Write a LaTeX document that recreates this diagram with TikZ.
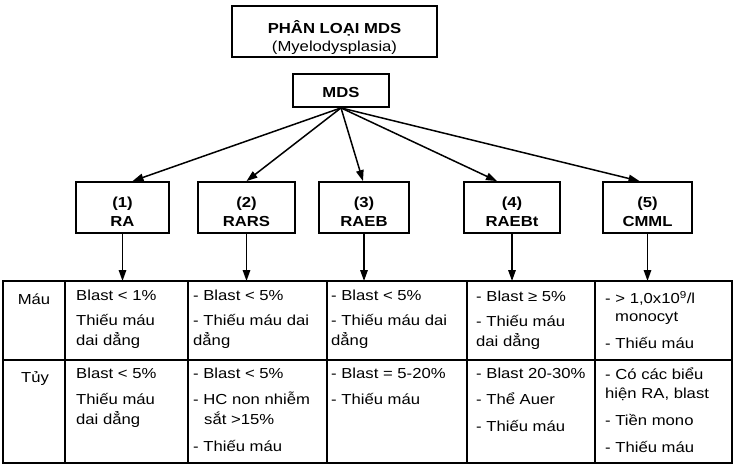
\documentclass[tikz,border=0pt]{standalone}
\usepackage{fontspec}
\setmainfont[FakeStretch=1.15]{Liberation Sans}
\usetikzlibrary{arrows.meta,positioning}
\tikzset{
  titlebox/.style={draw,line width=1.8pt,align=center,inner sep=0pt,
    minimum width=205pt,text height=45pt,text depth=6pt,font=\fontsize{14.5}{18}\selectfont},
  rootbox/.style={draw,line width=1.8pt,align=center,inner sep=0pt,
    minimum width=96pt,text height=23pt,text depth=10pt,font=\bfseries\fontsize{14.5}{18}\selectfont},
  catbox/.style={draw,line width=1.8pt,align=center,inner sep=0pt,
    text height=44pt,text depth=7pt,font=\bfseries\fontsize{14.5}{19}\selectfont},
  splitarrow/.style={-{Triangle[length=11pt,width=7.5pt]},line width=1.5pt},
  downarrow/.style={-{Triangle[length=11pt,width=7.5pt]},line width=1.5pt},
  tableframe/.style={line width=2pt},
  tablerule/.style={line width=1.4pt},
  rowlabel/.style={anchor=base,inner sep=0pt,font=\fontsize{14.5}{20}\selectfont},
  celltext/.style={anchor=north west,align=left,inner sep=0pt,
    font=\fontsize{14.5}{20}\selectfont,execute at begin node=\strut}
}

\begin{document}
\begin{tikzpicture}[x=1pt,y=-1pt]
  \useasboundingbox (0,0) rectangle (736,471);
  % boxes
  \node[titlebox,anchor=base] (title) at (334.5,51) {\textbf{PHÂN LOẠI MDS}\\(Myelodysplasia)};
  \node[rootbox,anchor=base] (mds) at (341,97) {MDS};
  \node[catbox,minimum width=93pt,anchor=base] (ra) at (122.5,226) {(1)\\RA};
  \node[catbox,minimum width=97pt,anchor=base] (rars) at (246.5,226) {(2)\\RARS};
  \node[catbox,minimum width=90pt,anchor=base] (raeb) at (364,226) {(3)\\RAEB};
  \node[catbox,minimum width=96pt,anchor=base] (raebt) at (512,226) {(4)\\RAEBt};
  \node[catbox,minimum width=89pt,anchor=base] (cmml) at (647.5,226) {(5)\\CMML};

  \draw[splitarrow] (mds.south) -- ([xshift=10pt]ra.north);
  \draw[splitarrow] (mds.south) -- (rars.north);
  \draw[splitarrow] (mds.south) -- ([xshift=-1pt]raeb.north);
  \draw[splitarrow] (mds.south) -- ([xshift=-15pt]raebt.north);
  \draw[splitarrow] (mds.south) -- ([xshift=-8pt]cmml.north);

  % table
  \coordinate (tabtop) at (0,281);
  \foreach \cat in {ra,rars,raeb,raebt,cmml}
    \draw[downarrow] (\cat) -- (\cat |- tabtop);
  \draw[tablerule] (3,360) -- (732,360);
  \foreach \x in {65,188,327,467,595}
    \draw[tablerule] (\x,281) -- (\x,463);
  \draw[tableframe] (3,281) rectangle (732,463);

  \node[rowlabel] (mau) at (34,304) {Máu};
  \node[celltext] (mau1) at (76,290) {Blast < 1\%\\[5pt]Thiếu máu\\dai dẳng};
  \node[celltext] (mau2) at (193,290) {- Blast < 5\%\\[5pt]- Thiếu máu dai\\dẳng};
  \node[celltext] (mau3) at (331,290) {- Blast < 5\%\\[5pt]- Thiếu máu dai\\dẳng};
  \node[celltext] (mau4) at (476,291) {- Blast ≥ 5\%\\[5pt]- Thiếu máu\\dai dẳng};
  \node[celltext] (mau5) at (605,291) {- > 1,0x10\textsuperscript{9}/l\\[-2pt]\hspace*{10pt}monocyt\\[7pt]- Thiếu máu};

  \node[rowlabel] (tuy) at (35,382) {Tủy};
  \node[celltext] (tuy1) at (76,368) {Blast < 5\%\\[6pt]Thiếu máu\\dai dẳng};
  \node[celltext] (tuy2) at (193,368) {- Blast < 5\%\\[6pt]- HC non nhiễm\\\hspace*{11pt}sắt >15\%\\[7pt]- Thiếu máu};
  \node[celltext] (tuy3) at (331,368) {- Blast = 5-20\%\\[6pt]- Thiếu máu};
  \node[celltext] (tuy4) at (476,368) {- Blast 20-30\%\\[6pt]- Thể Auer\\[7pt]- Thiếu máu};
  \node[celltext] (tuy5) at (605,368) {- Có các biểu\\[-1pt]hiện RA, blast\\[7pt]- Tiền mono\\[7pt]- Thiếu máu};
\end{tikzpicture}
\end{document}
